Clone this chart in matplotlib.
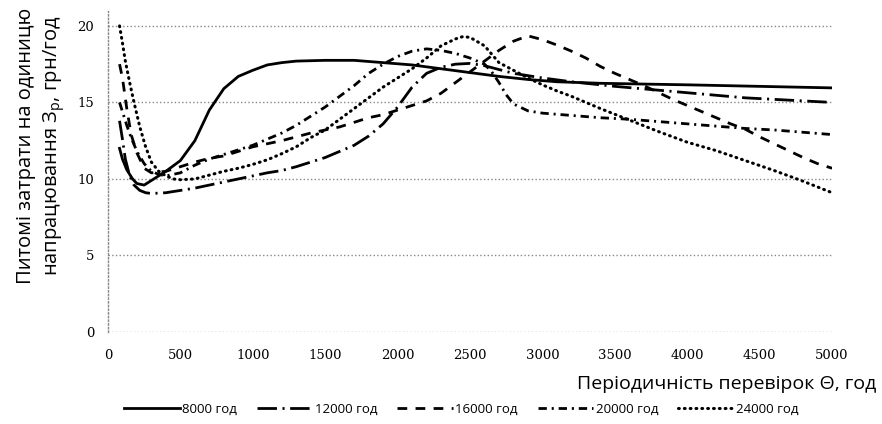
import matplotlib
matplotlib.use("Agg")
from matplotlib import pyplot as plt

plt.rcParams['font.family'] = ['Open Sans', 'DejaVu Sans']
plt.rcParams['lines.scale_dashes'] = False

# series data
x_8000 = [80, 100, 130, 170, 200, 250, 300, 400, 500, 600, 700, 800, 900, 1000, 1100, 1200, 1300,
          1500, 1700, 1900, 2100, 2300, 2500, 2700, 2900, 3100, 3400, 3700, 4000, 4500, 5000]
y_8000 = [12.0, 11.3, 10.6, 10.0, 9.7, 9.6, 9.9, 10.5, 11.2, 12.5, 14.5, 15.9, 16.7, 17.1, 17.45, 17.6, 17.7,
          17.75, 17.75, 17.6, 17.45, 17.2, 16.95, 16.7, 16.5, 16.35, 16.25, 16.2, 16.15, 16.05, 15.95]

x_12000 = [80, 100, 120, 150, 180, 220, 260, 300, 400, 500, 600, 700, 800, 900, 1000, 1100, 1200, 1300,
           1400, 1500, 1600, 1700, 1800, 1900, 2000, 2100, 2200, 2300, 2400, 2500, 2600, 2700, 2800,
           3000, 3200, 3500, 3800, 4100, 4400, 4700, 5000]
y_12000 = [13.8, 12.6, 11.3, 10.2, 9.6, 9.25, 9.1, 9.05, 9.1, 9.25, 9.4, 9.6, 9.8, 10.0, 10.2, 10.4, 10.55, 10.8,
           11.1, 11.4, 11.8, 12.2, 12.8, 13.6, 14.7, 16.0, 16.9, 17.3, 17.5, 17.55, 17.4, 17.15, 16.9,
           16.6, 16.35, 16.05, 15.8, 15.55, 15.3, 15.15, 15.0]

x_16000 = [80, 100, 130, 160, 200, 250, 300, 400, 500, 600, 700, 800, 900, 1000, 1100, 1200, 1300, 1400,
           1500, 1600, 1700, 1800, 1900, 2000, 2100, 2200, 2300, 2400, 2500, 2600, 2700, 2800, 2900,
           3000, 3100, 3200, 3300, 3400, 3500, 3600, 3700, 3800, 3900, 4000, 4100, 4200, 4300, 4400,
           4500, 4600, 4700, 4800, 4900, 5000]
y_16000 = [17.5, 16.6, 14.6, 12.9, 11.7, 10.7, 10.4, 10.5, 10.8, 11.1, 11.35, 11.5, 11.8, 12.1, 12.3, 12.5, 12.75, 13.0,
           13.2, 13.4, 13.7, 14.0, 14.2, 14.5, 14.8, 15.1, 15.6, 16.3, 17.0, 17.7, 18.4, 19.0, 19.35,
           19.1, 18.75, 18.35, 17.9, 17.35, 16.9, 16.5, 16.1, 15.65, 15.2, 14.8, 14.4, 14.0, 13.6, 13.25,
           12.75, 12.3, 11.85, 11.4, 11.0, 10.7]

x_20000 = [80, 100, 130, 160, 200, 250, 300, 350, 400, 500, 600, 700, 800, 900, 1000, 1100, 1200, 1300,
           1400, 1500, 1600, 1700, 1800, 1900, 2000, 2100, 2200, 2300, 2400, 2500, 2600, 2650, 2700,
           2750, 2800, 2900, 3000, 3200, 3400, 3600, 3800, 4000, 4200, 4400, 4600, 4800, 5000]
y_20000 = [15.0, 14.4, 13.5, 12.7, 11.8, 11.0, 10.5, 10.3, 10.2, 10.4, 10.9, 11.3, 11.6, 11.9, 12.2, 12.6, 13.0, 13.5,
           14.1, 14.7, 15.4, 16.1, 16.9, 17.5, 18.0, 18.35, 18.5, 18.4, 18.2, 17.9, 17.5, 17.0, 16.3,
           15.5, 14.9, 14.45, 14.3, 14.15, 14.0, 13.9, 13.75, 13.6, 13.45, 13.3, 13.2, 13.05, 12.9]

x_24000 = [80, 100, 120, 150, 180, 220, 260, 300, 350, 400, 450, 500, 600, 700, 800, 900, 1000, 1100,
           1200, 1300, 1400, 1500, 1600, 1700, 1800, 1900, 2000, 2100, 2200, 2300, 2400, 2450, 2500,
           2600, 2700, 2800, 2900, 3000, 3100, 3200, 3300, 3400, 3600, 3800, 4000, 4200, 4400, 4600,
           4800, 5000]
y_24000 = [20.0, 18.9, 17.7, 16.3, 15.0, 13.4, 12.1, 11.1, 10.5, 10.2, 10.0, 9.95, 10.0, 10.25, 10.5, 10.7, 10.95, 11.25,
           11.65, 12.1, 12.7, 13.2, 13.9, 14.6, 15.3, 16.0, 16.6, 17.2, 17.9, 18.7, 19.15, 19.3, 19.25,
           18.7, 17.6, 17.1, 16.6, 16.15, 15.75, 15.4, 15.0, 14.6, 13.85, 13.1, 12.4, 11.85, 11.2, 10.55,
           9.85, 9.1]

labels = ["8000 год", "12000 год", "16000 год", "20000 год", "24000 год"]
x_ticks = list(range(0, 5001, 500))
y_ticks = [0, 5, 10, 15, 20]

# figure
fig = plt.figure(figsize=(8.82, 4.24), dpi=100)
ax = fig.add_axes([0.1224, 0.217, 0.821, 0.758])

# draw
ax.plot(x_8000, y_8000, color='black', lw=2.0, label=labels[0])
ax.plot(x_12000, y_12000, color='black', lw=2.0, dashes=(14, 4, 1.5, 4), label=labels[1])
ax.plot(x_16000, y_16000, color='black', lw=2.0, dashes=(7, 6), label=labels[2])
ax.plot(x_20000, y_20000, color='black', lw=2.0, dashes=(6, 3.5, 1.5, 3.5), label=labels[3])
ax.plot(x_24000, y_24000, color='black', lw=2.2, dashes=(0.6, 3.6), dash_capstyle='round', label=labels[4])

# axes
ax.set_xlim(0, 5000)
ax.set_ylim(0, 21)
for s in ['top', 'right', 'bottom']:
    ax.spines[s].set_visible(False)
ax.spines['left'].set_linestyle(':')
ax.spines['left'].set_color('#888888')
ax.spines['left'].set_linewidth(1)
ax.set_yticks(y_ticks)
ax.set_xticks(x_ticks)
ax.tick_params(length=0)
ax.tick_params(axis='x', pad=12)
ax.tick_params(axis='y', pad=10)
for t in ax.get_xticklabels() + ax.get_yticklabels():
    t.set_family('DejaVu Serif')
    t.set_fontsize(9.5)

# grid
ax.grid(axis='y', linestyle=':', color='#888888', lw=1)

# labels
fig.text(0.994, 0.094, "Періодичність перевірок Θ, год", fontsize=14, ha='right', va='center')
fig.text(0.047, 0.655, "Питомі затрати на одиницю\nнапрацювання З$_\\mathregular{р}$, грн/год",
         rotation=90, ha='center', va='center', fontsize=14.5, linespacing=1.3)

# legend
fig.legend(loc='center', bbox_to_anchor=(0.523, 0.035), ncol=5, frameon=False, fontsize=9.5,
           handlelength=4.2, columnspacing=1.5, handletextpad=0.2)

plt.savefig('out.png', dpi=100)
